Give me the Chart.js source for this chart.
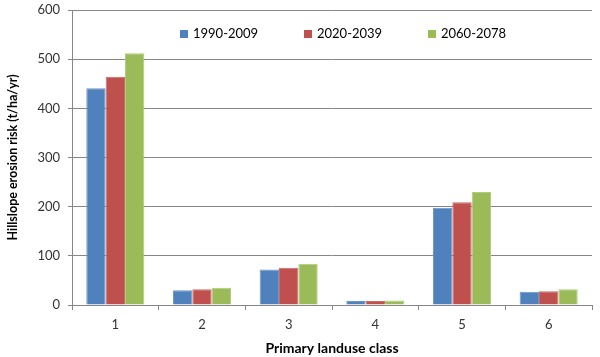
<!DOCTYPE html>
<html>
<head>
<meta charset="utf-8">
<script src="https://cdn.jsdelivr.net/npm/chart.js@4.4.1/dist/chart.umd.min.js"></script>
<style>
  html, body { margin: 0; padding: 0; background: #fff; }
  #wrap { width: 600px; height: 357px; }
</style>
</head>
<body>
<div id="wrap"><canvas id="chart" width="600" height="357"></canvas></div>
<script>
// landuse classes and erosion risk per period (t/ha/yr)
const classes = ['1', '2', '3', '4', '5', '6'];
const period1 = [441, 30, 72, 8, 198, 27];   // 1990-2009
const period2 = [464, 32, 76, 8, 209, 28];   // 2020-2039
const period3 = [512, 35, 84, 9, 230, 32];   // 2060-2078
const yTicks = [0, 100, 200, 300, 400, 500, 600];

const fontFam = "Lato, 'Open Sans', sans-serif";

// legend drawn inside the plot area, in one row like the original
var insideLegend = {
  id: 'insideLegend',
  afterDraw: function(chart) {
    var c = chart.ctx, area = chart.chartArea;
    c.save();
    c.font = '13px ' + fontFam;
    c.textBaseline = 'middle';
    var x = area.left + 108, y = area.top + 24;
    chart.data.datasets.forEach(function(ds) {
      c.fillStyle = ds.backgroundColor;
      c.fillRect(x, y - 4, 8, 8);
      c.fillStyle = '#000';
      c.fillText(ds.label, x + 13, y);
      x += 124;
    });
    c.restore();
  }
};

var ctx = document.getElementById('chart').getContext('2d');
var myChart = new Chart(ctx, {
  type: 'bar',
  data: {
    labels: classes,
    datasets: [
      { label: '1990-2009', data: period1, backgroundColor: '#4F81BD', borderColor: '#6A95C9', borderWidth: 1 },
      { label: '2020-2039', data: period2, backgroundColor: '#C0504D', borderColor: '#CC6B68', borderWidth: 1 },
      { label: '2060-2078', data: period3, backgroundColor: '#9BBB59', borderColor: '#B0CB7A', borderWidth: 1 }
    ]
  },
  plugins: [insideLegend],
  options: {
    responsive: false,
    animation: false,
    layout: { padding: { left: 5, right: 8, top: 10, bottom: 0 } },
    datasets: { bar: { categoryPercentage: 0.67, barPercentage: 1.0 } },
    plugins: {
      tooltip: { enabled: false },
      legend: { display: false }
    },
    scales: {
      x: {
        title: { display: true, text: 'Primary landuse class', color: '#000',
                 font: { family: fontFam, size: 14, weight: 'bold' }, padding: { top: 6, bottom: 0 } },
        ticks: { color: '#333', font: { family: fontFam, size: 13 }, padding: 7 },
        grid: { offset: true, drawOnChartArea: false, drawTicks: true, tickLength: 5, color: '#868686' },
        border: { color: '#868686' },
        afterFit: function(scale) { scale.height = 52; }
      },
      y: {
        min: 0, max: 600,
        afterBuildTicks: function(scale) { scale.ticks = yTicks.map(v => ({ value: v })); },
        title: { display: true, text: 'Hillslope erosion risk (t/ha/yr)', color: '#000',
                 font: { family: fontFam, size: 12.5, weight: 'bold' }, padding: { top: 0, bottom: 4 } },
        ticks: { color: '#333', font: { family: fontFam, size: 13 }, padding: 8 },
        grid: { color: '#868686', tickLength: 4 },
        border: { color: '#868686' },
        afterFit: function(scale) { scale.width = 67; scale.paddingTop = 0; scale.paddingBottom = 0; }
      }
    }
  }
});
</script>
</body>
</html>
